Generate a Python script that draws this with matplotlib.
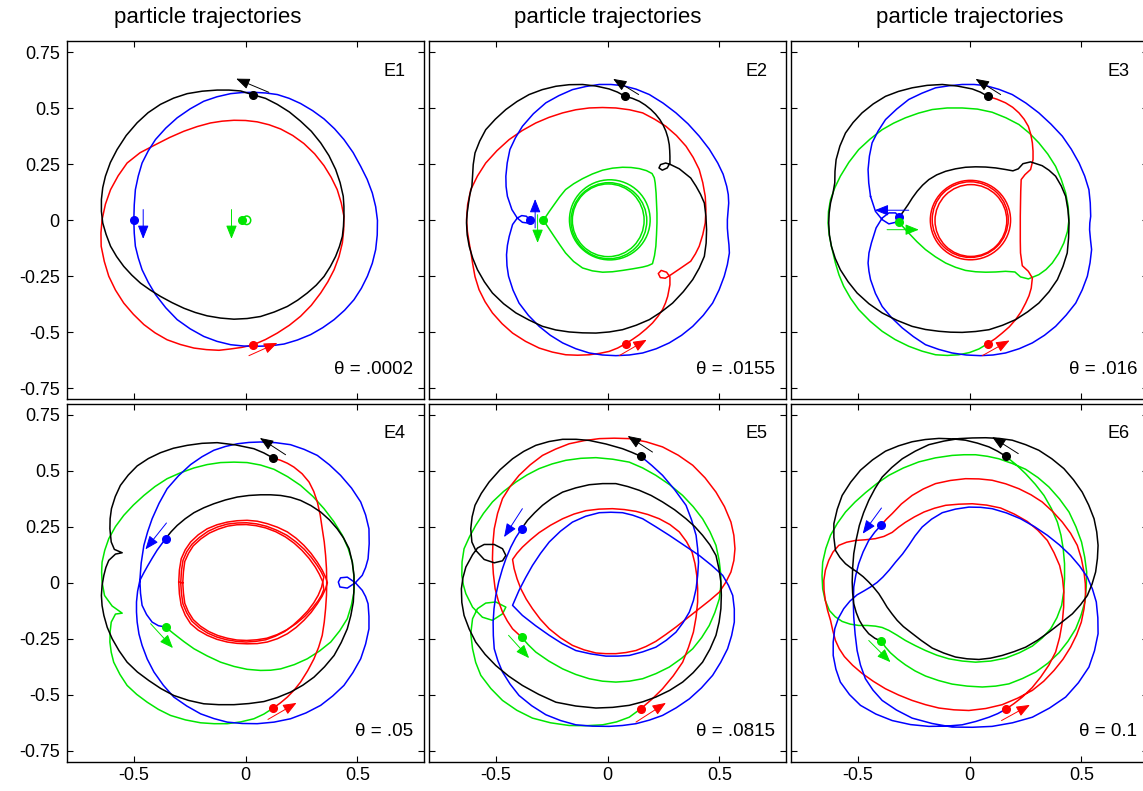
import matplotlib.pyplot as plt
from matplotlib.patches import Ellipse

plt.rcParams['font.family'] = ['Liberation Sans', 'DejaVu Sans']
plt.rcParams['axes.unicode_minus'] = False

BLACK = '#000000'
BLUE = '#0000ff'
RED = '#ff0000'
GREEN = '#00e600'

XTICKS = [-0.5, 0, 0.5]
XTICKLABELS = ['-0.5', '0', '0.5']
YTICKS = [-0.75, -0.5, -0.25, 0, 0.25, 0.5, 0.75]
YTICKLABELS = ['-0.75', '-0.5', '-0.25', '0', '0.25', '0.5', '0.75']

LABELS = ['E1', 'E2', 'E3', 'E4', 'E5', 'E6']
THETAS = ['.0002', '.0155', '.016', '.05', '.0815', '0.1']

# ---------------- E1 ----------------
E1_BLACK = [(0.033, 0.561), (0.089, 0.545), (0.142, 0.518), (0.196, 0.484), (0.246, 0.443), (0.294, 0.398),
            (0.336, 0.346), (0.373, 0.289), (0.403, 0.227), (0.423, 0.168), (0.437, 0.107), (0.440, 0.062),
            (0.440, 0.018), (0.438, -0.027), (0.433, -0.072), (0.420, -0.117), (0.403, -0.161), (0.379, -0.207),
            (0.351, -0.251), (0.316, -0.290), (0.276, -0.325), (0.233, -0.357), (0.187, -0.385), (0.128, -0.410),
            (0.067, -0.430), (0.007, -0.439), (-0.052, -0.442), (-0.112, -0.437), (-0.172, -0.427),
            (-0.225, -0.412), (-0.276, -0.393), (-0.329, -0.368), (-0.381, -0.340), (-0.426, -0.312),
            (-0.470, -0.281), (-0.509, -0.245), (-0.545, -0.206), (-0.577, -0.162), (-0.604, -0.116),
            (-0.624, -0.063), (-0.639, -0.012), (-0.645, 0.040), (-0.645, 0.093), (-0.639, 0.146),
            (-0.627, 0.197), (-0.605, 0.258), (-0.575, 0.316), (-0.534, 0.379), (-0.485, 0.436),
            (-0.436, 0.481), (-0.381, 0.518), (-0.322, 0.546), (-0.261, 0.566), (-0.194, 0.577),
            (-0.127, 0.582), (-0.074, 0.582), (-0.022, 0.578), (0.033, 0.561)]
E1_BLUE = [(-0.500, 0.000), (-0.498, 0.069), (-0.493, 0.137), (-0.480, 0.198), (-0.463, 0.256), (-0.435, 0.311),
           (-0.403, 0.361), (-0.357, 0.412), (-0.306, 0.458), (-0.248, 0.498), (-0.187, 0.532), (-0.128, 0.552),
           (-0.067, 0.566), (-0.015, 0.571), (0.037, 0.572), (0.090, 0.569), (0.142, 0.562), (0.195, 0.545),
           (0.246, 0.522), (0.300, 0.490), (0.351, 0.453), (0.398, 0.409), (0.440, 0.361), (0.481, 0.303),
           (0.515, 0.241), (0.544, 0.183), (0.567, 0.122), (0.582, 0.061), (0.590, 0.000), (0.589, -0.066),
           (0.582, -0.131), (0.567, -0.192), (0.545, -0.250), (0.518, -0.304), (0.485, -0.355), (0.443, -0.402),
           (0.396, -0.444), (0.345, -0.480), (0.291, -0.511), (0.232, -0.535), (0.172, -0.553), (0.112, -0.561),
           (0.052, -0.563), (-0.008, -0.562), (-0.067, -0.556), (-0.128, -0.541), (-0.187, -0.519),
           (-0.248, -0.485), (-0.306, -0.444), (-0.357, -0.391), (-0.403, -0.332), (-0.435, -0.278),
           (-0.463, -0.221), (-0.480, -0.168), (-0.493, -0.116), (-0.498, -0.058), (-0.500, 0.000)]
E1_RED = [(0.033, -0.557), (-0.017, -0.568), (-0.067, -0.575), (-0.119, -0.581), (-0.175, -0.578),
          (-0.231, -0.571), (-0.292, -0.555), (-0.351, -0.534), (-0.405, -0.503), (-0.455, -0.466),
          (-0.502, -0.420), (-0.545, -0.370), (-0.582, -0.312), (-0.612, -0.250), (-0.632, -0.184),
          (-0.646, -0.116), (-0.647, -0.056), (-0.642, 0.003), (-0.627, 0.072), (-0.604, 0.137),
          (-0.570, 0.199), (-0.530, 0.256), (-0.472, 0.302), (-0.403, 0.338), (-0.340, 0.370), (-0.276, 0.398),
          (-0.216, 0.419), (-0.157, 0.435), (-0.105, 0.443), (-0.052, 0.447), (0.000, 0.446), (0.052, 0.440),
          (0.105, 0.427), (0.157, 0.408), (0.211, 0.379), (0.261, 0.343), (0.309, 0.297), (0.351, 0.244),
          (0.383, 0.192), (0.410, 0.137), (0.428, 0.078), (0.440, 0.018), (0.439, -0.042), (0.433, -0.101),
          (0.418, -0.162), (0.396, -0.221), (0.368, -0.275), (0.336, -0.325), (0.294, -0.380), (0.246, -0.429),
          (0.196, -0.469), (0.142, -0.504), (0.089, -0.533), (0.033, -0.557)]
E1_RINGS = [(GREEN, (0.005, 0.0), 0.036, 0.038)]
E1_DOTS = [(BLACK, (0.033, 0.561)), (BLUE, (-0.5, 0.0)), (RED, (0.033, -0.557)), (GREEN, (-0.017, 0.0))]
E1_ARROWS = [(BLACK, (0.104, 0.572), (-0.042, 0.633)), (BLUE, (-0.458, 0.048), (-0.458, -0.083)),
             (GREEN, (-0.063, 0.048), (-0.063, -0.083)), (RED, (0.015, -0.605), (0.142, -0.548))]

# ---------------- E2 ----------------
E2_BLACK = [(0.079, 0.554), (0.044, 0.573), (0.007, 0.587), (-0.052, 0.600), (-0.112, 0.607), (-0.172, 0.606),
            (-0.231, 0.599), (-0.292, 0.584), (-0.351, 0.562), (-0.405, 0.531), (-0.455, 0.495),
            (-0.502, 0.452), (-0.545, 0.405), (-0.572, 0.354), (-0.593, 0.301), (-0.601, 0.249),
            (-0.604, 0.197), (-0.607, 0.152), (-0.616, 0.115), (-0.622, 0.077), (-0.628, 0.033),
            (-0.631, -0.012), (-0.628, -0.065), (-0.619, -0.116), (-0.603, -0.170), (-0.582, -0.221),
            (-0.551, -0.275), (-0.515, -0.325), (-0.465, -0.373), (-0.410, -0.414), (-0.351, -0.446),
            (-0.291, -0.474), (-0.232, -0.490), (-0.172, -0.499), (-0.112, -0.503), (-0.052, -0.504),
            (0.008, -0.499), (0.067, -0.489), (0.128, -0.469), (0.187, -0.444), (0.241, -0.409),
            (0.291, -0.370), (0.339, -0.319), (0.381, -0.265), (0.410, -0.214), (0.433, -0.161),
            (0.441, -0.102), (0.443, -0.042), (0.440, 0.018), (0.433, 0.077), (0.416, 0.116), (0.396, 0.152),
            (0.372, 0.189), (0.321, 0.230), (0.282, 0.249), (0.260, 0.256), (0.237, 0.249), (0.230, 0.234),
            (0.245, 0.224), (0.267, 0.234), (0.279, 0.256), (0.279, 0.286), (0.278, 0.312), (0.276, 0.338),
            (0.270, 0.369), (0.261, 0.398), (0.249, 0.425), (0.234, 0.450), (0.215, 0.474), (0.194, 0.495),
            (0.169, 0.515), (0.142, 0.532), (0.111, 0.545), (0.079, 0.554)]
E2_BLUE = [(-0.348, 0.001), (-0.363, 0.018), (-0.384, 0.021), (-0.404, 0.010), (-0.425, -0.019), (-0.440, -0.072),
           (-0.448, -0.112), (-0.452, -0.154), (-0.450, -0.203), (-0.443, -0.250), (-0.423, -0.312),
           (-0.396, -0.370), (-0.354, -0.425), (-0.306, -0.474), (-0.256, -0.514), (-0.201, -0.548),
           (-0.142, -0.574), (-0.082, -0.593), (-0.023, -0.602), (0.037, -0.605), (0.097, -0.602),
           (0.157, -0.593), (0.218, -0.574), (0.276, -0.548), (0.331, -0.514), (0.381, -0.474),
           (0.428, -0.425), (0.470, -0.370), (0.499, -0.311), (0.522, -0.250), (0.536, -0.198),
           (0.545, -0.146), (0.543, -0.109), (0.539, -0.072), (0.536, -0.035), (0.536, 0.003), (0.539, 0.040),
           (0.542, 0.077), (0.540, 0.115), (0.533, 0.152), (0.517, 0.206), (0.493, 0.256), (0.455, 0.318),
           (0.410, 0.376), (0.360, 0.431), (0.306, 0.480), (0.248, 0.524), (0.187, 0.562), (0.128, 0.586),
           (0.067, 0.602), (0.015, 0.607), (-0.037, 0.607), (-0.097, 0.598), (-0.157, 0.584), (-0.218, 0.557),
           (-0.276, 0.525), (-0.332, 0.476), (-0.381, 0.420), (-0.412, 0.369), (-0.437, 0.316),
           (-0.449, 0.256), (-0.455, 0.197), (-0.454, 0.151), (-0.448, 0.107), (-0.428, 0.048),
           (-0.404, 0.010), (-0.381, -0.009), (-0.358, -0.012), (-0.348, 0.001)]
E2_RED = [(0.082, -0.551), (0.112, -0.532), (0.142, -0.511), (0.172, -0.486), (0.201, -0.459), (0.225, -0.430),
          (0.246, -0.399), (0.259, -0.370), (0.269, -0.340), (0.279, -0.288), (0.279, -0.253), (0.264, -0.232),
          (0.240, -0.224), (0.227, -0.238), (0.236, -0.256), (0.258, -0.259), (0.284, -0.243), (0.321, -0.218),
          (0.372, -0.183), (0.393, -0.150), (0.410, -0.116), (0.426, -0.064), (0.437, -0.012), (0.440, 0.048),
          (0.437, 0.107), (0.426, 0.168), (0.410, 0.227), (0.383, 0.281), (0.351, 0.331), (0.308, 0.379),
          (0.261, 0.420), (0.210, 0.452), (0.157, 0.480), (0.098, 0.494), (0.037, 0.502), (-0.023, 0.504),
          (-0.082, 0.502), (-0.142, 0.494), (-0.201, 0.480), (-0.262, 0.460), (-0.321, 0.435),
          (-0.382, 0.401), (-0.440, 0.361), (-0.495, 0.311), (-0.545, 0.256), (-0.582, 0.198),
          (-0.612, 0.137), (-0.626, 0.070), (-0.631, 0.003), (-0.627, -0.050), (-0.619, -0.101),
          (-0.611, -0.146), (-0.604, -0.191), (-0.593, -0.252), (-0.575, -0.310), (-0.548, -0.364),
          (-0.515, -0.414), (-0.472, -0.462), (-0.425, -0.504), (-0.367, -0.541), (-0.306, -0.571),
          (-0.247, -0.589), (-0.187, -0.601), (-0.134, -0.603), (-0.082, -0.601), (-0.037, -0.595),
          (0.007, -0.586), (0.045, -0.571), (0.082, -0.551)]
E2_GREEN = [(-0.287, 0.000), (-0.263, 0.036), (-0.239, 0.070), (-0.214, 0.105), (-0.188, 0.137), (-0.152, 0.163),
            (-0.112, 0.186), (-0.068, 0.207), (-0.022, 0.224), (0.022, 0.233), (0.067, 0.237), (0.105, 0.236),
            (0.142, 0.231), (0.174, 0.222), (0.199, 0.209), (0.209, 0.190), (0.213, 0.167), (0.217, 0.122),
            (0.219, 0.077), (0.221, 0.032), (0.221, -0.012), (0.219, -0.064), (0.216, -0.116), (0.210, -0.158),
            (0.201, -0.194), (0.180, -0.203), (0.157, -0.209), (0.112, -0.217), (0.067, -0.224),
            (0.022, -0.230), (-0.022, -0.232), (-0.068, -0.226), (-0.112, -0.213), (-0.152, -0.184),
            (-0.188, -0.146), (-0.214, -0.109), (-0.239, -0.072), (-0.263, -0.036), (-0.287, 0.000)]
E2_RINGS = [(GREEN, (0.010, 0.002), 0.361, 0.358), (GREEN, (0.006, -0.002), 0.339, 0.340),
            (GREEN, (0.003, 0.000), 0.321, 0.325)]
E2_DOTS = [(BLACK, (0.079, 0.554)), (BLUE, (-0.348, 0.001)), (GREEN, (-0.287, 0.0)), (RED, (0.082, -0.551))]
E2_ARROWS = [(BLACK, (0.139, 0.562), (0.025, 0.632)), (BLUE, (-0.324, -0.034), (-0.324, 0.095)),
             (GREEN, (-0.313, 0.025), (-0.313, -0.101)), (RED, (0.052, -0.605), (0.175, -0.534))]

# ---------------- E3 ----------------
E3_BLACK = [(0.082, 0.554), (0.048, 0.573), (0.012, 0.587), (-0.055, 0.600), (-0.122, 0.607), (-0.190, 0.603),
            (-0.257, 0.592), (-0.318, 0.576), (-0.376, 0.554), (-0.431, 0.520), (-0.481, 0.480),
            (-0.521, 0.437), (-0.555, 0.390), (-0.580, 0.332), (-0.597, 0.271), (-0.602, 0.219),
            (-0.603, 0.167), (-0.611, 0.121), (-0.622, 0.077), (-0.628, 0.033), (-0.630, -0.012),
            (-0.627, -0.065), (-0.618, -0.116), (-0.601, -0.170), (-0.578, -0.221), (-0.543, -0.275),
            (-0.503, -0.325), (-0.450, -0.373), (-0.391, -0.414), (-0.325, -0.447), (-0.257, -0.474),
            (-0.197, -0.488), (-0.137, -0.496), (-0.085, -0.500), (-0.033, -0.501), (0.027, -0.497),
            (0.087, -0.489), (0.148, -0.469), (0.206, -0.444), (0.260, -0.409), (0.310, -0.370),
            (0.355, -0.320), (0.393, -0.265), (0.418, -0.206), (0.437, -0.146), (0.443, -0.079),
            (0.445, -0.012), (0.440, 0.048), (0.430, 0.107), (0.410, 0.154), (0.385, 0.197), (0.355, 0.224),
            (0.325, 0.244), (0.273, 0.261), (0.239, 0.253), (0.218, 0.230), (0.194, 0.221), (0.161, 0.227),
            (0.117, 0.234), (0.072, 0.238), (0.027, 0.239), (-0.018, 0.237), (-0.063, 0.230), (-0.107, 0.219),
            (-0.147, 0.203), (-0.182, 0.182), (-0.210, 0.157), (-0.234, 0.130), (-0.256, 0.100),
            (-0.275, 0.070), (-0.309, 0.021), (-0.316, 0.015)]
E3_BLUE = [(-0.443, 0.107), (-0.421, 0.040), (-0.391, 0.003), (-0.361, -0.016), (-0.331, -0.009), (-0.316, 0.015),
           (-0.331, 0.033), (-0.361, 0.033), (-0.391, 0.010), (-0.418, -0.034), (-0.439, -0.101),
           (-0.450, -0.146), (-0.454, -0.191), (-0.450, -0.228), (-0.443, -0.265), (-0.421, -0.327),
           (-0.391, -0.385), (-0.349, -0.435), (-0.301, -0.481), (-0.251, -0.520), (-0.197, -0.556),
           (-0.138, -0.577), (-0.078, -0.593), (-0.015, -0.602), (0.049, -0.605), (0.105, -0.602),
           (0.161, -0.593), (0.222, -0.574), (0.281, -0.548), (0.335, -0.514), (0.385, -0.474),
           (0.432, -0.424), (0.475, -0.370), (0.504, -0.311), (0.527, -0.250), (0.539, -0.190),
           (0.546, -0.131), (0.541, -0.086), (0.537, -0.042), (0.538, -0.012), (0.542, 0.018), (0.540, 0.078),
           (0.534, 0.137), (0.515, 0.198), (0.490, 0.256), (0.455, 0.318), (0.415, 0.376), (0.364, 0.430),
           (0.310, 0.480), (0.252, 0.524), (0.191, 0.562), (0.132, 0.585), (0.072, 0.602), (0.020, 0.607),
           (-0.033, 0.607), (-0.093, 0.601), (-0.152, 0.592), (-0.213, 0.568), (-0.272, 0.540),
           (-0.326, 0.497), (-0.376, 0.450), (-0.409, 0.399), (-0.436, 0.346), (-0.448, 0.287),
           (-0.454, 0.227), (-0.451, 0.167), (-0.443, 0.107)]
E3_GREEN = [(-0.316, -0.009), (-0.272, -0.057), (-0.236, -0.095), (-0.197, -0.131), (-0.153, -0.163),
            (-0.107, -0.191), (-0.063, -0.210), (-0.018, -0.224), (0.027, -0.230), (0.072, -0.232),
            (0.117, -0.231), (0.161, -0.228), (0.203, -0.231), (0.228, -0.253), (0.263, -0.262),
            (0.310, -0.243), (0.342, -0.220), (0.370, -0.191), (0.399, -0.148), (0.422, -0.101),
            (0.438, -0.050), (0.445, 0.003), (0.441, 0.063), (0.430, 0.122), (0.410, 0.183), (0.385, 0.241),
            (0.350, 0.296), (0.310, 0.346), (0.267, 0.390), (0.221, 0.428), (0.163, 0.458), (0.101, 0.483),
            (0.035, 0.497), (-0.033, 0.502), (-0.100, 0.502), (-0.167, 0.495), (-0.228, 0.479),
            (-0.287, 0.458), (-0.340, 0.434), (-0.391, 0.405), (-0.445, 0.363), (-0.496, 0.316),
            (-0.540, 0.259), (-0.578, 0.197), (-0.603, 0.145), (-0.622, 0.092), (-0.631, 0.040),
            (-0.633, -0.012), (-0.628, -0.065), (-0.618, -0.116), (-0.600, -0.191), (-0.584, -0.244),
            (-0.563, -0.295), (-0.532, -0.349), (-0.496, -0.399), (-0.445, -0.451), (-0.391, -0.496),
            (-0.333, -0.533), (-0.272, -0.563), (-0.212, -0.585), (-0.152, -0.601), (-0.100, -0.604),
            (-0.048, -0.601), (0.000, -0.591), (0.042, -0.575), (0.082, -0.551)]
E3_RED = [(0.082, -0.551), (0.115, -0.529), (0.146, -0.504), (0.178, -0.476), (0.206, -0.444), (0.231, -0.408),
          (0.251, -0.370), (0.266, -0.337), (0.276, -0.303), (0.281, -0.258), (0.263, -0.228), (0.236, -0.203),
          (0.228, -0.146), (0.227, -0.094), (0.227, -0.042), (0.227, 0.018), (0.228, 0.077), (0.229, 0.130),
          (0.231, 0.182), (0.248, 0.204), (0.273, 0.227), (0.284, 0.271), (0.284, 0.309), (0.281, 0.346),
          (0.274, 0.384), (0.263, 0.420), (0.244, 0.452), (0.221, 0.480), (0.193, 0.505), (0.161, 0.525),
          (0.123, 0.541), (0.082, 0.554)]
E3_RINGS = [(RED, (0.004, 0.001), 0.359, 0.355), (RED, (0.003, 0.003), 0.340, 0.338),
            (RED, (0.006, -0.001), 0.321, 0.321)]
E3_DOTS = [(BLACK, (0.082, 0.554)), (BLUE, (-0.316, 0.015)), (GREEN, (-0.316, -0.009)), (RED, (0.082, -0.551))]
E3_ARROWS = [(BLACK, (0.139, 0.562), (0.027, 0.632)), (BLUE, (-0.272, 0.045), (-0.424, 0.045)),
             (GREEN, (-0.369, -0.042), (-0.227, -0.042)), (RED, (0.057, -0.605), (0.179, -0.537))]

# ---------------- E4 ----------------
E4_BLACK = [(0.124, 0.557), (0.082, 0.580), (0.037, 0.599), (-0.045, 0.616), (-0.127, 0.626), (-0.195, 0.623),
            (-0.261, 0.614), (-0.323, 0.601), (-0.381, 0.581), (-0.435, 0.555), (-0.485, 0.522),
            (-0.525, 0.481), (-0.560, 0.435), (-0.583, 0.385), (-0.600, 0.331), (-0.606, 0.286),
            (-0.607, 0.241), (-0.601, 0.182), (-0.587, 0.149), (-0.552, 0.134), (-0.582, 0.128),
            (-0.612, 0.100), (-0.625, 0.068), (-0.634, 0.033), (-0.642, -0.012), (-0.645, -0.057),
            (-0.642, -0.102), (-0.634, -0.146), (-0.619, -0.199), (-0.597, -0.250), (-0.566, -0.304),
            (-0.530, -0.355), (-0.484, -0.399), (-0.433, -0.437), (-0.379, -0.473), (-0.321, -0.504),
            (-0.255, -0.526), (-0.187, -0.541), (-0.120, -0.545), (-0.052, -0.545), (0.015, -0.540),
            (0.082, -0.531), (0.142, -0.513), (0.201, -0.489), (0.256, -0.458), (0.306, -0.422),
            (0.353, -0.376), (0.396, -0.325), (0.428, -0.267), (0.455, -0.206), (0.471, -0.146),
            (0.482, -0.086), (0.485, -0.027), (0.485, 0.033), (0.477, 0.093), (0.463, 0.152), (0.439, 0.199),
            (0.410, 0.241), (0.375, 0.281), (0.336, 0.316), (0.292, 0.345), (0.246, 0.368), (0.202, 0.382),
            (0.157, 0.390), (0.112, 0.393), (0.067, 0.393), (0.015, 0.390), (-0.037, 0.383), (-0.090, 0.370),
            (-0.142, 0.353), (-0.187, 0.335), (-0.231, 0.313), (-0.270, 0.286), (-0.306, 0.256),
            (-0.333, 0.228), (-0.358, 0.197)]
E4_GREEN = [(-0.358, -0.198), (-0.321, -0.228), (-0.276, -0.263), (-0.231, -0.295), (-0.172, -0.327),
            (-0.112, -0.355), (-0.052, -0.374), (0.007, -0.387), (0.067, -0.392), (0.112, -0.391),
            (0.157, -0.385), (0.218, -0.366), (0.276, -0.340), (0.331, -0.305), (0.381, -0.265),
            (0.421, -0.215), (0.455, -0.161), (0.473, -0.102), (0.485, -0.042), (0.485, 0.025), (0.478, 0.092),
            (0.459, 0.153), (0.433, 0.212), (0.395, 0.273), (0.351, 0.331), (0.301, 0.386), (0.246, 0.435),
            (0.188, 0.474), (0.127, 0.507), (0.067, 0.526), (0.007, 0.537), (-0.052, 0.539), (-0.112, 0.537),
            (-0.172, 0.528), (-0.231, 0.513), (-0.292, 0.491), (-0.351, 0.465), (-0.405, 0.430),
            (-0.455, 0.390), (-0.502, 0.347), (-0.545, 0.301), (-0.582, 0.251), (-0.612, 0.197),
            (-0.630, 0.145), (-0.642, 0.092), (-0.644, 0.047), (-0.642, 0.003), (-0.631, -0.057),
            (-0.597, -0.104), (-0.552, -0.136), (-0.582, -0.140), (-0.601, -0.176), (-0.606, -0.220),
            (-0.607, -0.265), (-0.601, -0.311), (-0.590, -0.355), (-0.562, -0.410), (-0.530, -0.459),
            (-0.487, -0.499), (-0.440, -0.534), (-0.390, -0.566), (-0.336, -0.593), (-0.269, -0.613),
            (-0.201, -0.626), (-0.141, -0.630), (-0.082, -0.630), (-0.022, -0.622), (0.037, -0.608),
            (0.082, -0.587), (0.124, -0.560)]
E4_RED = [(0.124, -0.560), (0.156, -0.537), (0.187, -0.511), (0.218, -0.479), (0.246, -0.444), (0.278, -0.393),
          (0.306, -0.340), (0.327, -0.288), (0.343, -0.235), (0.352, -0.176), (0.358, -0.116), (0.362, -0.056),
          (0.363, 0.003), (0.362, 0.062), (0.358, 0.122), (0.352, 0.182), (0.343, 0.241), (0.334, 0.302),
          (0.321, 0.361), (0.305, 0.408), (0.284, 0.450), (0.253, 0.487), (0.216, 0.517), (0.187, 0.534),
          (0.157, 0.547), (0.124, 0.557)]
E4_RED_LOOP_A = [(-0.299, 0.003), (-0.296, 0.057), (-0.288, 0.107), (-0.270, 0.147), (-0.246, 0.182),
                 (-0.212, 0.214), (-0.172, 0.241), (-0.128, 0.259), (-0.082, 0.271), (-0.038, 0.277),
                 (0.007, 0.279), (0.052, 0.275), (0.097, 0.264), (0.143, 0.248), (0.187, 0.227), (0.226, 0.199),
                 (0.261, 0.167), (0.293, 0.131), (0.321, 0.092), (0.342, 0.058), (0.358, 0.025), (0.366, 0.000),
                 (0.358, -0.027), (0.342, -0.061), (0.321, -0.094), (0.293, -0.133), (0.261, -0.168),
                 (0.226, -0.200), (0.187, -0.228), (0.143, -0.250), (0.097, -0.265), (0.052, -0.272),
                 (0.007, -0.273), (-0.038, -0.271), (-0.082, -0.265), (-0.128, -0.253), (-0.172, -0.235),
                 (-0.212, -0.212), (-0.246, -0.183), (-0.270, -0.145), (-0.288, -0.101), (-0.296, -0.050),
                 (-0.299, 0.003)]
E4_RED_LOOP_B = [(-0.290, 0.000), (-0.287, 0.052), (-0.280, 0.100), (-0.263, 0.139), (-0.240, 0.172),
                 (-0.206, 0.203), (-0.168, 0.230), (-0.126, 0.249), (-0.082, 0.262), (-0.038, 0.267),
                 (0.005, 0.268), (0.050, 0.263), (0.095, 0.252), (0.141, 0.234), (0.185, 0.212), (0.225, 0.183),
                 (0.262, 0.150), (0.293, 0.115), (0.320, 0.078), (0.337, 0.051), (0.350, 0.025), (0.340, -0.020),
                 (0.325, -0.056), (0.305, -0.090), (0.277, -0.127), (0.245, -0.160), (0.211, -0.191),
                 (0.175, -0.218), (0.133, -0.239), (0.090, -0.255), (0.046, -0.262), (0.003, -0.265),
                 (-0.041, -0.262), (-0.085, -0.255), (-0.128, -0.243), (-0.170, -0.225), (-0.207, -0.201),
                 (-0.240, -0.172), (-0.263, -0.135), (-0.280, -0.095), (-0.287, -0.048), (-0.290, 0.000)]
E4_RED_LOOP_C = [(-0.281, 0.000), (-0.278, 0.049), (-0.272, 0.095), (-0.255, 0.132), (-0.234, 0.165),
                 (-0.200, 0.196), (-0.162, 0.222), (-0.121, 0.240), (-0.080, 0.253), (-0.039, 0.259),
                 (0.003, 0.260), (0.047, 0.255), (0.090, 0.245), (0.135, 0.228), (0.178, 0.205), (0.217, 0.177),
                 (0.252, 0.145), (0.284, 0.109), (0.312, 0.070), (0.330, 0.038), (0.345, 0.005), (0.350, -0.030),
                 (0.340, -0.055), (0.325, -0.080), (0.297, -0.116), (0.265, -0.150), (0.227, -0.182),
                 (0.185, -0.210), (0.141, -0.232), (0.095, -0.248), (0.050, -0.255), (0.005, -0.258),
                 (-0.039, -0.256), (-0.082, -0.248), (-0.124, -0.236), (-0.165, -0.218), (-0.202, -0.194),
                 (-0.234, -0.165), (-0.256, -0.130), (-0.272, -0.092), (-0.278, -0.046), (-0.281, 0.000)]
E4_BLUE = [(-0.358, 0.197), (-0.377, 0.171), (-0.396, 0.145), (-0.417, 0.111), (-0.437, 0.077), (-0.456, 0.043),
           (-0.473, 0.010), (-0.483, -0.038), (-0.488, -0.086), (-0.488, -0.131), (-0.485, -0.176),
           (-0.477, -0.229), (-0.463, -0.280), (-0.440, -0.341), (-0.410, -0.399), (-0.368, -0.458),
           (-0.321, -0.511), (-0.263, -0.551), (-0.201, -0.586), (-0.142, -0.607), (-0.082, -0.623),
           (-0.015, -0.629), (0.052, -0.630), (0.127, -0.623), (0.201, -0.608), (0.270, -0.582),
           (0.336, -0.548), (0.390, -0.506), (0.440, -0.459), (0.480, -0.402), (0.515, -0.340),
           (0.537, -0.274), (0.552, -0.206), (0.552, -0.150), (0.548, -0.094), (0.537, -0.062),
           (0.522, -0.034), (0.491, 0.000), (0.455, -0.024), (0.422, -0.019), (0.415, 0.003), (0.425, 0.022),
           (0.455, 0.025), (0.491, 0.000), (0.522, 0.033), (0.537, 0.068), (0.548, 0.107), (0.553, 0.174),
           (0.552, 0.241), (0.537, 0.303), (0.515, 0.361), (0.474, 0.423), (0.425, 0.480), (0.375, 0.527),
           (0.321, 0.569), (0.262, 0.596), (0.201, 0.617), (0.134, 0.626), (0.067, 0.629), (0.015, 0.627),
           (-0.037, 0.621), (-0.090, 0.609), (-0.142, 0.592), (-0.195, 0.563), (-0.246, 0.528),
           (-0.300, 0.478), (-0.351, 0.420), (-0.387, 0.355), (-0.418, 0.286), (-0.438, 0.228),
           (-0.455, 0.167), (-0.467, 0.088), (-0.473, 0.010), (-0.470, -0.047), (-0.463, -0.101),
           (-0.443, -0.142), (-0.418, -0.176), (-0.390, -0.192), (-0.358, -0.198)]
E4_DOTS = [(BLACK, (0.124, 0.557)), (BLUE, (-0.358, 0.197)), (GREEN, (-0.358, -0.198)), (RED, (0.124, -0.560))]
E4_ARROWS = [(BLACK, (0.179, 0.572), (0.064, 0.647)), (BLUE, (-0.354, 0.267), (-0.448, 0.149)),
             (GREEN, (-0.425, -0.183), (-0.325, -0.292)), (RED, (0.100, -0.611), (0.228, -0.537))]

# ---------------- E5 ----------------
E5_BLACK = [(0.149, 0.565), (0.108, 0.583), (0.067, 0.599), (-0.007, 0.620), (-0.082, 0.636), (-0.141, 0.641),
            (-0.201, 0.641), (-0.262, 0.631), (-0.321, 0.614), (-0.375, 0.587), (-0.425, 0.554),
            (-0.481, 0.505), (-0.530, 0.450), (-0.565, 0.399), (-0.593, 0.346), (-0.606, 0.294),
            (-0.612, 0.241), (-0.607, 0.182), (-0.590, 0.145), (-0.552, 0.104), (-0.507, 0.089),
            (-0.470, 0.098), (-0.455, 0.122), (-0.470, 0.152), (-0.507, 0.171), (-0.552, 0.171),
            (-0.582, 0.155), (-0.604, 0.125), (-0.634, 0.070), (-0.647, 0.022), (-0.654, -0.027),
            (-0.652, -0.088), (-0.642, -0.146), (-0.619, -0.207), (-0.590, -0.265), (-0.548, -0.320),
            (-0.500, -0.370), (-0.443, -0.417), (-0.381, -0.459), (-0.308, -0.499), (-0.231, -0.534),
            (-0.142, -0.551), (-0.052, -0.560), (0.023, -0.557), (0.097, -0.548), (0.158, -0.532),
            (0.216, -0.511), (0.278, -0.481), (0.336, -0.444), (0.383, -0.402), (0.425, -0.355),
            (0.458, -0.297), (0.485, -0.235), (0.499, -0.176), (0.507, -0.116), (0.509, -0.056),
            (0.507, 0.003), (0.498, 0.064), (0.485, 0.122), (0.458, 0.169), (0.425, 0.212), (0.390, 0.251),
            (0.351, 0.286), (0.300, 0.326), (0.246, 0.361), (0.195, 0.390), (0.142, 0.413), (0.090, 0.430),
            (0.037, 0.443), (-0.022, 0.443), (-0.082, 0.438), (-0.142, 0.424), (-0.201, 0.405),
            (-0.248, 0.378), (-0.291, 0.346), (-0.326, 0.313), (-0.358, 0.279), (-0.385, 0.241)]
E5_GREEN = [(-0.385, -0.243), (-0.354, -0.278), (-0.321, -0.310), (-0.263, -0.350), (-0.201, -0.385),
            (-0.142, -0.410), (-0.082, -0.429), (-0.023, -0.440), (0.037, -0.444), (0.097, -0.440),
            (0.157, -0.429), (0.217, -0.406), (0.276, -0.377), (0.331, -0.338), (0.381, -0.295),
            (0.421, -0.245), (0.455, -0.191), (0.480, -0.133), (0.500, -0.072), (0.506, -0.020),
            (0.507, 0.033), (0.499, 0.101), (0.485, 0.167), (0.458, 0.228), (0.425, 0.286), (0.383, 0.340),
            (0.336, 0.390), (0.278, 0.438), (0.216, 0.480), (0.157, 0.513), (0.097, 0.539), (0.023, 0.552),
            (-0.052, 0.559), (-0.120, 0.556), (-0.187, 0.547), (-0.248, 0.531), (-0.306, 0.510),
            (-0.360, 0.482), (-0.410, 0.450), (-0.465, 0.408), (-0.515, 0.361), (-0.555, 0.310),
            (-0.590, 0.256), (-0.618, 0.205), (-0.642, 0.152), (-0.651, 0.093), (-0.652, 0.033),
            (-0.645, -0.010), (-0.634, -0.049), (-0.604, -0.109), (-0.560, -0.154), (-0.515, -0.168),
            (-0.470, -0.139), (-0.455, -0.109), (-0.500, -0.086), (-0.545, -0.091), (-0.582, -0.116),
            (-0.604, -0.161), (-0.612, -0.228), (-0.604, -0.295), (-0.590, -0.356), (-0.567, -0.414),
            (-0.522, -0.473), (-0.470, -0.526), (-0.406, -0.570), (-0.336, -0.605), (-0.255, -0.626),
            (-0.172, -0.638), (-0.097, -0.639), (-0.022, -0.635), (0.040, -0.622), (0.097, -0.601),
            (0.149, -0.563)]
E5_RED = [(0.149, -0.563), (0.199, -0.520), (0.246, -0.474), (0.294, -0.416), (0.336, -0.355), (0.362, -0.289),
          (0.384, -0.221), (0.396, -0.154), (0.403, -0.086), (0.403, -0.027), (0.399, 0.033), (0.391, 0.086),
          (0.378, 0.137), (0.353, 0.184), (0.321, 0.227), (0.279, 0.260), (0.231, 0.286), (0.180, 0.305),
          (0.127, 0.319), (0.075, 0.327), (0.022, 0.331), (-0.038, 0.329), (-0.097, 0.322), (-0.150, 0.307),
          (-0.201, 0.286), (-0.255, 0.257), (-0.306, 0.224), (-0.345, 0.192), (-0.381, 0.159),
          (-0.405, 0.132), (-0.425, 0.104), (-0.418, 0.063), (-0.405, 0.018), (-0.388, -0.027),
          (-0.364, -0.073), (-0.336, -0.116), (-0.301, -0.163), (-0.261, -0.206), (-0.211, -0.246),
          (-0.157, -0.280), (-0.105, -0.300), (-0.052, -0.314), (-0.008, -0.317), (0.037, -0.317),
          (0.082, -0.312), (0.127, -0.303), (0.172, -0.285), (0.216, -0.262), (0.261, -0.231),
          (0.306, -0.198), (0.358, -0.157), (0.410, -0.116), (0.457, -0.079), (0.500, -0.042),
          (0.529, 0.002), (0.552, 0.048), (0.565, 0.099), (0.570, 0.152), (0.565, 0.212), (0.552, 0.271),
          (0.523, 0.340), (0.485, 0.405), (0.436, 0.469), (0.381, 0.525), (0.316, 0.570), (0.246, 0.607),
          (0.172, 0.630), (0.097, 0.644), (0.030, 0.646), (-0.037, 0.644), (-0.105, 0.635), (-0.172, 0.621),
          (-0.233, 0.597), (-0.291, 0.569), (-0.346, 0.527), (-0.396, 0.480), (-0.436, 0.430),
          (-0.470, 0.376), (-0.492, 0.310), (-0.507, 0.241), (-0.513, 0.174), (-0.515, 0.107),
          (-0.511, 0.040), (-0.503, -0.027), (-0.489, -0.080), (-0.470, -0.131), (-0.449, -0.170),
          (-0.425, -0.206), (-0.385, -0.243)]
E5_BLUE = [(0.149, 0.565), (0.198, 0.524), (0.246, 0.480), (0.300, 0.416), (0.351, 0.346), (0.376, 0.280),
           (0.396, 0.212), (0.403, 0.152), (0.407, 0.092), (0.403, 0.032), (0.396, -0.027), (0.384, -0.080),
           (0.366, -0.131), (0.338, -0.178), (0.306, -0.221), (0.263, -0.257), (0.216, -0.288), (0.157, -0.309),
           (0.097, -0.325), (0.045, -0.328), (-0.007, -0.328), (-0.075, -0.318), (-0.142, -0.303),
           (-0.203, -0.272), (-0.261, -0.235), (-0.322, -0.192), (-0.381, -0.146), (-0.425, -0.101),
           (-0.396, -0.034), (-0.367, 0.022), (-0.336, 0.077), (-0.300, 0.131), (-0.261, 0.182),
           (-0.211, 0.230), (-0.157, 0.271), (-0.098, 0.297), (-0.037, 0.313), (0.015, 0.315), (0.067, 0.313),
           (0.112, 0.302), (0.157, 0.286), (0.216, 0.250), (0.276, 0.212), (0.343, 0.167), (0.410, 0.122),
           (0.465, 0.078), (0.515, 0.033), (0.541, -0.012), (0.560, -0.057), (0.567, -0.117), (0.567, -0.176),
           (0.555, -0.236), (0.537, -0.295), (0.506, -0.356), (0.470, -0.414), (0.420, -0.470),
           (0.366, -0.519), (0.307, -0.559), (0.246, -0.593), (0.187, -0.614), (0.127, -0.630),
           (0.067, -0.638), (0.007, -0.642), (-0.068, -0.641), (-0.142, -0.635), (-0.210, -0.616),
           (-0.276, -0.590), (-0.339, -0.550), (-0.396, -0.504), (-0.436, -0.453), (-0.470, -0.399),
           (-0.491, -0.348), (-0.507, -0.295), (-0.511, -0.236), (-0.512, -0.176), (-0.508, -0.116),
           (-0.500, -0.057), (-0.487, 0.004), (-0.470, 0.063), (-0.453, 0.112), (-0.433, 0.159),
           (-0.411, 0.201), (-0.385, 0.241)]
E5_DOTS = [(BLACK, (0.149, 0.565)), (BLUE, (-0.385, 0.241)), (GREEN, (-0.385, -0.243)), (RED, (0.149, -0.563))]
E5_ARROWS = [(BLACK, (0.201, 0.584), (0.090, 0.656)), (BLUE, (-0.381, 0.331), (-0.463, 0.204)),
             (GREEN, (-0.443, -0.235), (-0.351, -0.337)), (RED, (0.127, -0.623), (0.261, -0.537))]

# ---------------- E6 ----------------
E6_BLACK = [(0.161, 0.566), (0.125, 0.588), (0.087, 0.607), (0.035, 0.624), (-0.018, 0.637), (-0.078, 0.643),
            (-0.137, 0.645), (-0.198, 0.640), (-0.257, 0.630), (-0.317, 0.612), (-0.376, 0.588),
            (-0.434, 0.549), (-0.488, 0.503), (-0.532, 0.449), (-0.570, 0.390), (-0.592, 0.328),
            (-0.607, 0.264), (-0.607, 0.203), (-0.600, 0.145), (-0.580, 0.113), (-0.555, 0.085),
            (-0.530, 0.066), (-0.503, 0.048), (-0.476, 0.027), (-0.451, 0.003), (-0.428, -0.022),
            (-0.406, -0.049), (-0.387, -0.079), (-0.369, -0.109), (-0.347, -0.139), (-0.324, -0.168),
            (-0.296, -0.196), (-0.264, -0.221), (-0.216, -0.258), (-0.167, -0.292), (-0.116, -0.314),
            (-0.063, -0.332), (-0.011, -0.340), (0.042, -0.343), (0.094, -0.337), (0.146, -0.325),
            (0.199, -0.308), (0.251, -0.288), (0.304, -0.257), (0.355, -0.221), (0.408, -0.180),
            (0.460, -0.139), (0.496, -0.099), (0.527, -0.057), (0.548, -0.006), (0.564, 0.048), (0.572, 0.108),
            (0.575, 0.167), (0.569, 0.227), (0.557, 0.286), (0.533, 0.347), (0.504, 0.405), (0.465, 0.460),
            (0.422, 0.510), (0.368, 0.554), (0.310, 0.592), (0.251, 0.617), (0.191, 0.637), (0.132, 0.645),
            (0.072, 0.648), (0.012, 0.647), (-0.048, 0.644), (-0.115, 0.633), (-0.182, 0.617),
            (-0.243, 0.588), (-0.301, 0.554), (-0.348, 0.515), (-0.391, 0.472), (-0.423, 0.421),
            (-0.451, 0.368), (-0.474, 0.313), (-0.493, 0.256), (-0.507, 0.193), (-0.518, 0.130),
            (-0.523, 0.066), (-0.525, 0.003), (-0.523, -0.046), (-0.518, -0.094), (-0.507, -0.133),
            (-0.493, -0.168), (-0.474, -0.200), (-0.451, -0.228), (-0.424, -0.248), (-0.394, -0.262)]
E6_GREEN = [(0.161, 0.566), (0.208, 0.528), (0.251, 0.487), (0.294, 0.440), (0.333, 0.390), (0.366, 0.332),
            (0.393, 0.271), (0.409, 0.212), (0.419, 0.152), (0.425, 0.085), (0.425, 0.018), (0.421, -0.042),
            (0.412, -0.101), (0.391, -0.156), (0.363, -0.206), (0.325, -0.247), (0.281, -0.283),
            (0.223, -0.313), (0.161, -0.337), (0.095, -0.350), (0.027, -0.355), (-0.033, -0.350),
            (-0.093, -0.340), (-0.146, -0.324), (-0.197, -0.303), (-0.243, -0.281), (-0.287, -0.258),
            (-0.325, -0.234), (-0.361, -0.213), (-0.391, -0.200), (-0.421, -0.194), (-0.458, -0.191),
            (-0.496, -0.191), (-0.534, -0.185), (-0.570, -0.173), (-0.601, -0.152), (-0.627, -0.124),
            (-0.646, -0.078), (-0.657, -0.027), (-0.660, 0.032), (-0.657, 0.092), (-0.643, 0.153),
            (-0.622, 0.212), (-0.591, 0.266), (-0.555, 0.316), (-0.512, 0.361), (-0.466, 0.402),
            (-0.415, 0.443), (-0.361, 0.480), (-0.296, 0.513), (-0.227, 0.540), (-0.153, 0.558),
            (-0.078, 0.569), (-0.025, 0.572), (0.027, 0.572), (0.080, 0.565), (0.131, 0.554), (0.191, 0.533),
            (0.251, 0.507), (0.306, 0.470), (0.355, 0.428), (0.402, 0.375), (0.445, 0.316), (0.476, 0.250),
            (0.501, 0.182), (0.515, 0.115), (0.524, 0.048), (0.522, -0.019), (0.516, -0.086), (0.498, -0.148),
            (0.475, -0.206), (0.440, -0.262), (0.400, -0.313), (0.350, -0.360), (0.296, -0.399),
            (0.237, -0.428), (0.176, -0.452), (0.117, -0.462), (0.057, -0.466), (-0.011, -0.462),
            (-0.078, -0.453), (-0.139, -0.437), (-0.197, -0.417), (-0.244, -0.394), (-0.287, -0.367),
            (-0.322, -0.341), (-0.354, -0.313), (-0.376, -0.288), (-0.394, -0.262)]
E6_RED = [(0.161, -0.566), (0.199, -0.540), (0.236, -0.511), (0.280, -0.469), (0.318, -0.422), (0.355, -0.368),
          (0.385, -0.310), (0.403, -0.244), (0.415, -0.176), (0.421, -0.109), (0.422, -0.042), (0.416, 0.019),
          (0.403, 0.077), (0.378, 0.134), (0.348, 0.189), (0.305, 0.235), (0.258, 0.274), (0.200, 0.307),
          (0.139, 0.334), (0.076, 0.347), (0.012, 0.353), (-0.048, 0.351), (-0.107, 0.346), (-0.157, 0.333),
          (-0.204, 0.316), (-0.247, 0.294), (-0.287, 0.270), (-0.318, 0.248), (-0.346, 0.225),
          (-0.383, 0.207), (-0.421, 0.197), (-0.466, 0.192), (-0.510, 0.189), (-0.550, 0.181),
          (-0.585, 0.167), (-0.611, 0.137), (-0.630, 0.100), (-0.645, 0.056), (-0.652, 0.010),
          (-0.651, -0.035), (-0.645, -0.079), (-0.635, -0.124), (-0.622, -0.168), (-0.612, -0.213),
          (-0.600, -0.258), (-0.583, -0.295), (-0.560, -0.330), (-0.523, -0.369), (-0.481, -0.405),
          (-0.430, -0.441), (-0.376, -0.474), (-0.317, -0.502), (-0.257, -0.526), (-0.197, -0.545),
          (-0.137, -0.560), (-0.070, -0.568), (-0.003, -0.571), (0.073, -0.562), (0.146, -0.545),
          (0.215, -0.516), (0.281, -0.481), (0.332, -0.440), (0.378, -0.392), (0.418, -0.342),
          (0.452, -0.288), (0.479, -0.233), (0.500, -0.176), (0.512, -0.117), (0.519, -0.057),
          (0.518, -0.004), (0.512, 0.048), (0.500, 0.109), (0.482, 0.167), (0.452, 0.221), (0.415, 0.271),
          (0.372, 0.318), (0.325, 0.361), (0.275, 0.393), (0.221, 0.420), (0.162, 0.442), (0.101, 0.458),
          (0.042, 0.464), (-0.018, 0.465), (-0.086, 0.457), (-0.152, 0.443), (-0.207, 0.419),
          (-0.257, 0.390), (-0.305, 0.352), (-0.346, 0.309), (-0.372, 0.284), (-0.394, 0.259)]
E6_BLUE = [(-0.394, 0.259), (-0.424, 0.226), (-0.451, 0.189), (-0.476, 0.138), (-0.496, 0.085), (-0.509, 0.033),
           (-0.518, -0.019), (-0.520, -0.087), (-0.518, -0.154), (-0.512, -0.229), (-0.503, -0.303),
           (-0.488, -0.368), (-0.466, -0.429), (-0.432, -0.480), (-0.391, -0.526), (-0.327, -0.569),
           (-0.257, -0.605), (-0.168, -0.629), (-0.078, -0.645), (0.012, -0.646), (0.101, -0.642),
           (0.192, -0.626), (0.281, -0.601), (0.358, -0.560), (0.430, -0.511), (0.487, -0.447),
           (0.534, -0.377), (0.559, -0.304), (0.575, -0.228), (0.574, -0.157), (0.567, -0.086),
           (0.550, -0.029), (0.527, 0.025), (0.492, 0.075), (0.452, 0.122), (0.402, 0.169), (0.348, 0.212),
           (0.290, 0.251), (0.228, 0.286), (0.165, 0.312), (0.101, 0.331), (0.049, 0.337), (-0.003, 0.338),
           (-0.063, 0.329), (-0.122, 0.313), (-0.170, 0.284), (-0.212, 0.249), (-0.244, 0.209),
           (-0.272, 0.167), (-0.300, 0.128), (-0.331, 0.092), (-0.359, 0.057), (-0.388, 0.025),
           (-0.414, 0.001), (-0.443, -0.019), (-0.473, -0.037), (-0.503, -0.054), (-0.535, -0.082),
           (-0.563, -0.116), (-0.587, -0.159), (-0.603, -0.206), (-0.610, -0.265), (-0.610, -0.325),
           (-0.598, -0.386), (-0.578, -0.444), (-0.537, -0.500), (-0.488, -0.548), (-0.419, -0.587),
           (-0.346, -0.616), (-0.264, -0.634), (-0.182, -0.642), (-0.107, -0.641), (-0.033, -0.635),
           (0.028, -0.620), (0.087, -0.601), (0.126, -0.585), (0.161, -0.566)]
E6_DOTS = [(BLACK, (0.161, 0.566)), (BLUE, (-0.394, 0.259)), (GREEN, (-0.394, -0.262)), (RED, (0.161, -0.566))]
E6_ARROWS = [(BLACK, (0.218, 0.577), (0.101, 0.651)), (BLUE, (-0.394, 0.334), (-0.478, 0.219)),
             (GREEN, (-0.451, -0.258), (-0.354, -0.355)), (RED, (0.143, -0.616), (0.270, -0.546))]


PANELS = [
    dict(curves=[(RED, E1_RED), (BLUE, E1_BLUE), (BLACK, E1_BLACK)], rings=E1_RINGS,
         dots=E1_DOTS, arrows=E1_ARROWS),
    dict(curves=[(GREEN, E2_GREEN), (RED, E2_RED), (BLUE, E2_BLUE), (BLACK, E2_BLACK)], rings=E2_RINGS,
         dots=E2_DOTS, arrows=E2_ARROWS),
    dict(curves=[(GREEN, E3_GREEN), (RED, E3_RED), (BLUE, E3_BLUE), (BLACK, E3_BLACK)], rings=E3_RINGS,
         dots=E3_DOTS, arrows=E3_ARROWS),
    dict(curves=[(RED, E4_RED_LOOP_A), (RED, E4_RED_LOOP_B), (RED, E4_RED_LOOP_C), (GREEN, E4_GREEN),
                 (RED, E4_RED), (BLUE, E4_BLUE), (BLACK, E4_BLACK)], rings=[],
         dots=E4_DOTS, arrows=E4_ARROWS),
    dict(curves=[(GREEN, E5_GREEN), (RED, E5_RED), (BLUE, E5_BLUE), (BLACK, E5_BLACK)], rings=[],
         dots=E5_DOTS, arrows=E5_ARROWS),
    dict(curves=[(GREEN, E6_GREEN), (RED, E6_RED), (BLUE, E6_BLUE), (BLACK, E6_BLACK)], rings=[],
         dots=E6_DOTS, arrows=E6_ARROWS),
]

# horizontal position of each column's title, in axes fraction
TITLE_X = [0.395, 0.5, 0.5]


def draw_panel(ax, panel, label, theta):
    for color, pts in panel['curves']:
        xs = [p[0] for p in pts]
        ys = [p[1] for p in pts]
        ax.plot(xs, ys, color=color, lw=1.1, solid_joinstyle='round')
    for color, center, w, h in panel['rings']:
        ax.add_patch(Ellipse(center, w, h, fill=False, edgecolor=color, lw=1.1))
    for color, tail, head in panel['arrows']:
        ax.annotate('', xy=head, xytext=tail,
                    arrowprops=dict(arrowstyle='-|>,head_length=0.55,head_width=0.22', color=color,
                                    lw=0.7, mutation_scale=15, shrinkA=0, shrinkB=0))
    for color, (x, y) in panel['dots']:
        ax.plot(x, y, 'o', color=color, ms=5.5)

    ax.text(0.715, 0.665, label, ha='right', va='center', fontsize=13)
    ax.text(0.75, -0.665, '\u03b8 = ' + theta, ha='right', va='center', fontsize=13.5)

    ax.set_xlim(-0.8, 0.8)
    ax.set_ylim(-0.8, 0.8)
    ax.set_xticks(XTICKS)
    ax.set_yticks(YTICKS)
    ax.tick_params(direction='in', top=True, right=True, length=4, width=0.8, labelsize=13)
    for s in ax.spines.values():
        s.set_linewidth(1.0)


def main():
    fig = plt.figure(figsize=(11.43, 7.91), dpi=100)
    lefts = [0.0584, 0.3751, 0.6918]
    bottoms = [0.4952, 0.0370]
    w, h = 0.3129, 0.4526

    for i in range(6):
        row, col = divmod(i, 3)
        ax = fig.add_axes([lefts[col], bottoms[row], w, h])
        draw_panel(ax, PANELS[i], LABELS[i], THETAS[i])

        if col == 0:
            ax.set_yticklabels(YTICKLABELS)
            ax.tick_params(axis='y', pad=5)
        else:
            ax.set_yticklabels([])
        if row == 1:
            ax.set_xticklabels(XTICKLABELS)
        else:
            ax.set_xticklabels([])
            ax.text(TITLE_X[col], 1.066, 'particle trajectories', transform=ax.transAxes,
                    ha='center', va='center', fontsize=16)

    fig.savefig('out.png', dpi=100)


if __name__ == '__main__':
    main()
